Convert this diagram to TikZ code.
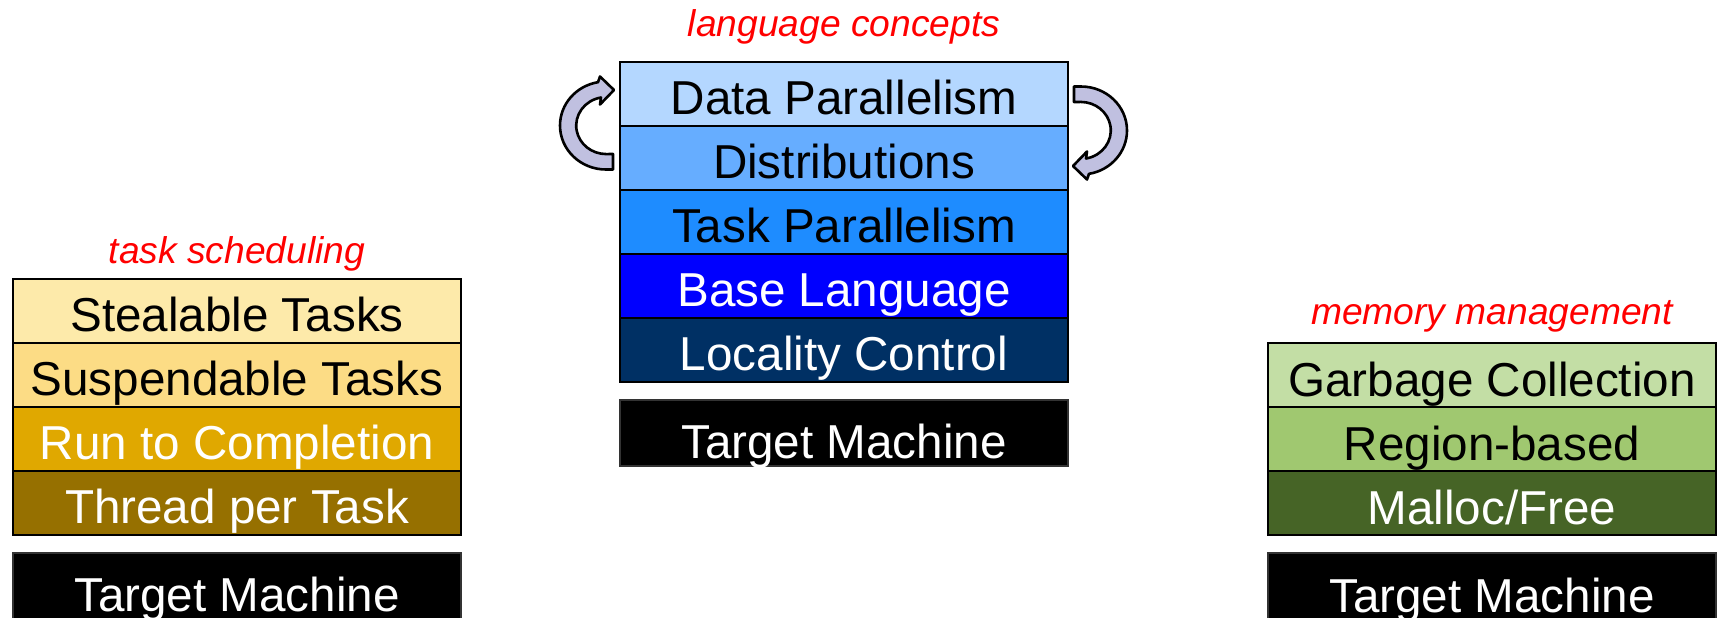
\documentclass[tikz,border=0pt]{standalone}
\usepackage{fontspec}
\setmainfont{Liberation Sans}
\usepackage{tikz}
\usetikzlibrary{positioning}
\usepackage{xcolor}
\definecolor{dpblue}{RGB}{180,215,255}
\definecolor{distblue}{RGB}{102,173,255}
\definecolor{tpblue}{RGB}{30,140,255}
\definecolor{blblue}{RGB}{0,0,255}
\definecolor{lcblue}{RGB}{0,48,100}
\definecolor{stealyellow}{RGB}{253,234,170}
\definecolor{suspyellow}{RGB}{252,220,133}
\definecolor{rtcgold}{RGB}{224,168,0}
\definecolor{tptbrown}{RGB}{150,112,0}
\definecolor{gcgreen}{RGB}{195,222,165}
\definecolor{rbgreen}{RGB}{160,200,112}
\definecolor{mfgreen}{RGB}{70,100,38}
\definecolor{arrowlilac}{RGB}{192,192,224}
\tikzstyle{layer} = [rectangle, draw=black, line width=1pt, inner sep=0pt, outer sep=0pt, minimum width=224pt, minimum height=32pt, text height=26.5pt, text depth=5.5pt, font=\fontsize{23.8}{28}\selectfont]
\tikzstyle{target} = [layer, draw=black!80, fill=black, text=white, minimum height=33pt, text height=29.5pt, text depth=3.5pt]
\tikzstyle{topic} = [text=red, font=\fontsize{18.6}{22}\selectfont\itshape]
\tikzstyle{curlyarrow} = [fill=arrowlilac, draw=black, line width=1.3pt, line join=round]
\tikzset{pics/bentarrow/.style={code={
  \draw[curlyarrow] (7,-44) -- (0,-44) arc[start angle=-90, end angle=-260, x radius=46, y radius=44]
    -- (-6,49) -- (8,35.5) -- (-6,21) -- (-5,28)
    arc[start angle=100, end angle=270, x radius=30, y radius=28.5] -- (7,-28.5) -- cycle;
}}}

\begin{document}
\begin{tikzpicture}[x=0.5pt, y=0.5pt]
\useasboundingbox (0,0) rectangle (1719,-617);
% language concepts
\node (dp) [layer, fill=dpblue, anchor=north west] at (620,-61.5) {Data Parallelism};
\node (dist) [layer, fill=distblue, below=0pt of dp] {Distributions};
\node (tp) [layer, fill=tpblue, below=0pt of dist] {Task Parallelism};
\node (bl) [layer, fill=blblue, text=white, below=0pt of tp] {Base Language};
\node (lc) [layer, fill=lcblue, text=white, below=0pt of bl] {Locality Control};
\node (tmc) [target, below=9pt of lc] {Target Machine};
\node (lang) [topic, above=12.5pt of dp, anchor=base] {language concepts};
\pic at ([xshift=-7pt, yshift=0pt]dp.south west) {bentarrow};
\pic[rotate=180] at ([xshift=6.5pt, yshift=-2.5pt]dp.south east) {bentarrow};

% task scheduling
\node (st) [layer, fill=stealyellow, anchor=north west] at (13,-278.5) {Stealable Tasks};
\node (sp) [layer, fill=suspyellow, below=0pt of st] {Suspendable Tasks};
\node (rtc) [layer, fill=rtcgold, text=white, below=0pt of sp] {Run to Completion};
\node (tpt) [layer, fill=tptbrown, text=white, below=0pt of rtc] {Thread per Task};
\node (tml) [target, below=9pt of tpt] {Target Machine};
\node (sched) [topic, above=7.75pt of st, anchor=base] {task scheduling};

% memory management
\node (gc) [layer, fill=gcgreen, anchor=north west] at (1268,-343) {Garbage Collection};
\node (rb) [layer, fill=rbgreen, below=0pt of gc] {Region-based};
\node (mf) [layer, fill=mfgreen, text=white, below=0pt of rb] {Malloc/Free};
\node (tmr) [target, below=9pt of mf] {Target Machine};
\node (mem) [topic, above=9.5pt of gc, anchor=base] {memory management};
\end{tikzpicture}
\end{document}
